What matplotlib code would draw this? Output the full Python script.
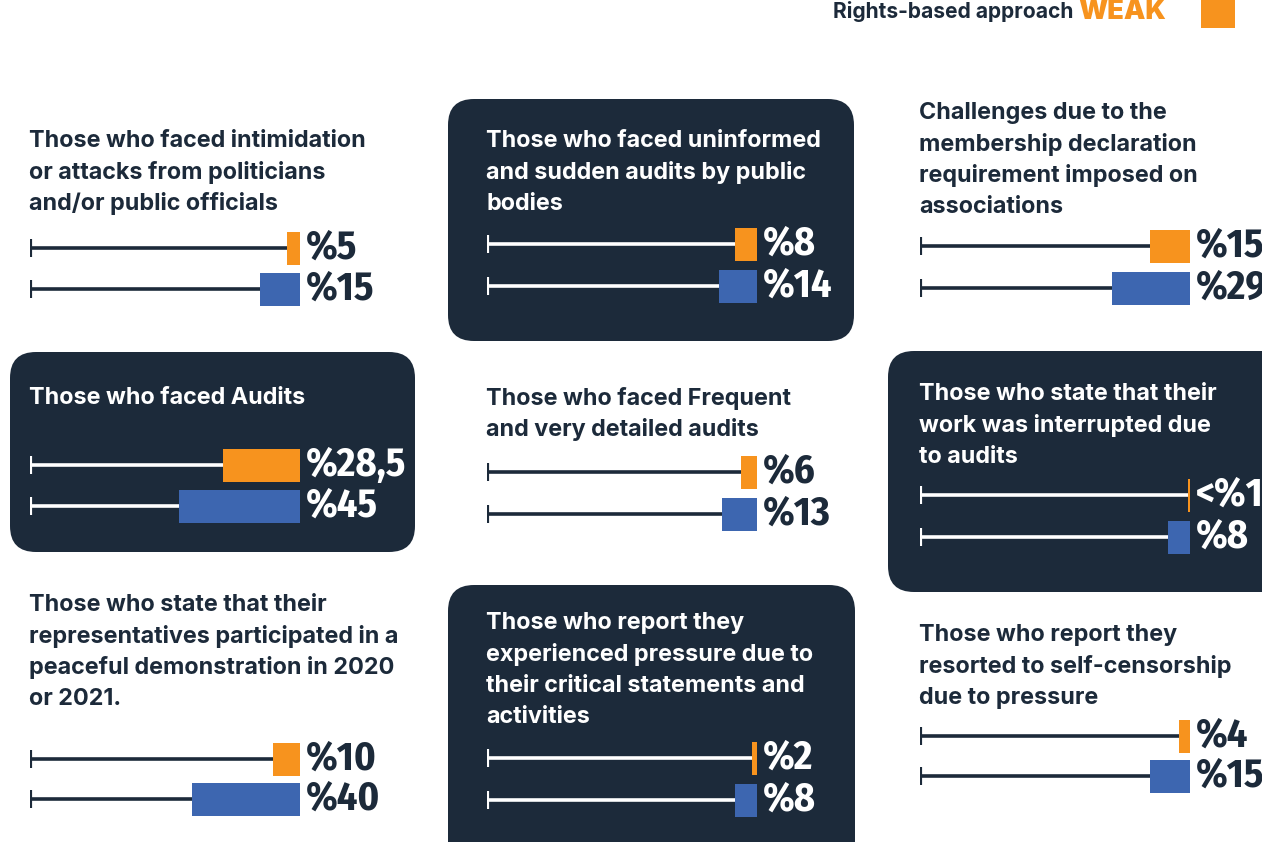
#!/usr/bin/env python3
"""
plot.py - pressure / audit indicators, small-multiple bar panels.
"""

import matplotlib
matplotlib.use("Agg")
import matplotlib.pyplot as plt
from matplotlib.patches import FancyBboxPatch, Rectangle

# ---------------------------------------------------------------------------
# Data
# ---------------------------------------------------------------------------

titles = [
    "Those who faced intimidation\nor attacks from politicians\nand/or public officials",
    "Those who faced uninformed\nand sudden audits by public\nbodies",
    "Challenges due to the\nmembership declaration\nrequirement imposed on\nassociations",
    "Those who faced Audits",
    "Those who faced Frequent\nand very detailed audits",
    "Those who state that their\nwork was interrupted due\nto audits",
    "Those who state that their\nrepresentatives participated in a\npeaceful demonstration in 2020\nor 2021.",
    "Those who report they\nexperienced pressure due to\ntheir critical statements and\nactivities",
    "Those who report they\nresorted to self-censorship\ndue to pressure",
]
weak_values = [5, 8, 15, 28.5, 6, 0.6, 10, 2, 4]
strong_values = [15, 14, 29, 45, 13, 8, 40, 8, 15]
weak_labels = ["%5", "%8", "%15", "%28,5", "%6", "<%1", "%10", "%2", "%4"]
strong_labels = ["%15", "%14", "%29", "%45", "%13", "%8", "%40", "%8", "%15"]

# ---------------------------------------------------------------------------
# Layout (pixels, origin top-left)
# ---------------------------------------------------------------------------

W, H = 1262, 842
NAVY = "#1c2a3a"
ORANGE = "#f7931e"
BLUE = "#3d66b0"

# panel: (line start x, first title line centre y, weak row y, strong row y, dark box)
panels = [
    (30, 141, 248, 289, False),
    (487, 141, 244, 286, True),
    (920, 113, 246, 288, False),
    (30, 398, 465, 506, True),
    (487, 398, 472, 514, False),
    (920, 394, 495, 537, True),
    (30, 605, 759, 799, False),
    (487, 623, 758, 800, True),
    (920, 635, 736, 776, False),
]
# dark rounded boxes: x, y, w, h
boxes = [(448, 99, 406, 242), (10, 352, 405, 200), (888, 351, 420, 241), (448, 585, 407, 300)]

TITLE_FONT = ["Inter", "DejaVu Sans"]
NUM_FONT = ["Fira Sans Condensed", "DejaVu Sans"]
PX_PER_UNIT = 2.7
LINE_H = 31.3

fig = plt.figure(figsize=(W / 100, H / 100), dpi=100)
bg = fig.add_axes([0, 0, 1, 1])
bg.set_xlim(0, W)
bg.set_ylim(H, 0)
bg.axis("off")

for x, y, w, h in boxes:
    bg.add_patch(FancyBboxPatch((x + 26, y + 26), w - 52, h - 52,
                                boxstyle="round,pad=26", fc=NAVY, ec="none"))

# header (cut off at the top of the page)
bg.text(8, -2.5, "WHAT ARE THE PROBLEMS?", color=ORANGE, fontsize=40, fontweight=900,
        family=TITLE_FONT, ha="left", va="baseline")
bg.text(833, 12, "Rights-based approach", color=NAVY, fontsize=15.1, fontweight="bold",
        family=TITLE_FONT, ha="left", va="center")
bg.text(1078, 12, "WEAK", color=ORANGE, fontsize=19.5, fontweight=900,
        family=TITLE_FONT, ha="left", va="center")
bg.add_patch(Rectangle((1201, -5), 34, 33, fc=ORANGE, ec="none"))

for i, (x0, ty, yw, ys, dark) in enumerate(panels):
    fg = "white" if dark else NAVY
    for j, line in enumerate(titles[i].split("\n")):
        bg.text(x0 - 1, ty + j * LINE_H, line, color=fg, fontsize=16.8, fontweight="bold",
                family=TITLE_FONT, ha="left", va="center")

    d = ys - yw
    ax = fig.add_axes([x0 / W, 1 - (ys + d / 2) / H, 100 * PX_PER_UNIT / W, 2 * d / H])
    ax.set_xlim(0, 100)
    ax.set_ylim(1.5, -0.5)
    ax.axis("off")
    bar_h = 33 / d
    for row, (v, lab, col) in enumerate([(weak_values[i], weak_labels[i], ORANGE),
                                         (strong_values[i], strong_labels[i], BLUE)]):
        ax.plot([0, 100 - v], [row, row], color=fg, lw=2.6, solid_capstyle="butt", zorder=1)
        ax.plot([0, 0], [row - 0.22, row + 0.22], color=fg, lw=3, solid_capstyle="butt", zorder=1)
        ax.barh(row, v, left=100 - v, height=bar_h, color=col, zorder=2)
        ax.annotate(lab, (100, row), xytext=(4, 0), textcoords="offset points",
                    color=fg, fontsize=29, fontweight="bold", family=NUM_FONT,
                    ha="left", va="center", annotation_clip=False)

fig.savefig("out.png", dpi=100)
